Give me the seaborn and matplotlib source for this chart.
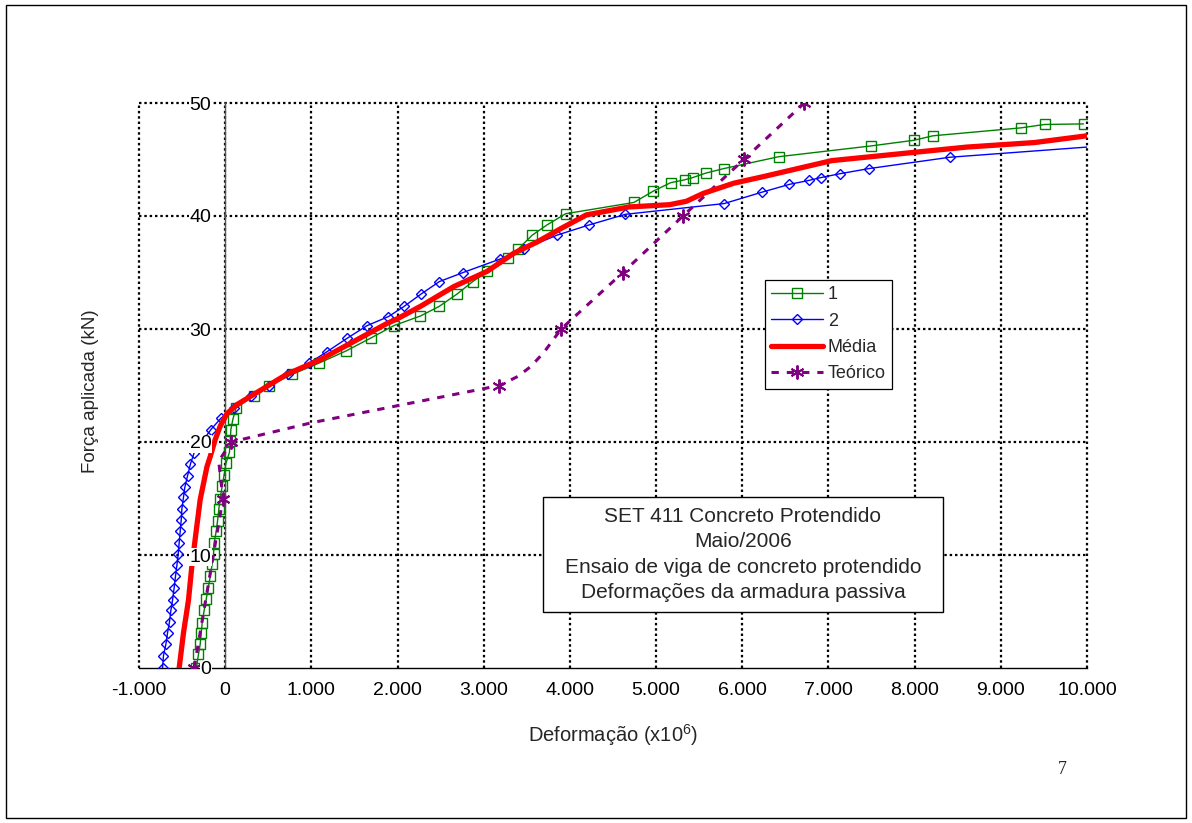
import matplotlib
matplotlib.use("Agg")
import matplotlib.pyplot as plt
from matplotlib.patches import Rectangle
from matplotlib.ticker import MultipleLocator
import seaborn as sns

# ---------------- data ----------------
# Series "1" (green squares)
g_x = [-335, -310, -290, -278, -267, -244, -220, -197, -174, -151, -135, -128, -104, -89, -73, -58,
       -35, -12, 8, 50, 58, 66, 89, 125, 329, 514, 781, 1094, 1400, 1690, 1957, 2266, 2483, 2691,
       2873, 3043, 3283, 3403, 3562, 3732, 3950, 4743, 4967, 5170, 5330, 5425, 5578, 5788, 6425,
       7493, 7991, 8214, 9234, 9508, 9960]
g_y = [0, 1.2, 2.1, 3.1, 4.0, 5.1, 6.1, 7.05, 8.1, 9.2, 10.1, 11.1, 12.1, 13.0, 14.1, 15.0,
       16.1, 17.1, 18.1, 19.1, 20.1, 21.1, 22.0, 23.0, 24.1, 25.0, 26.0, 27.0, 28.05, 29.2, 30.3,
       31.15, 32.0, 33.1, 34.2, 35.1, 36.25, 37.1, 38.3, 39.2, 40.2, 41.2, 42.2, 42.95, 43.2, 43.4,
       43.8, 44.2, 45.25, 46.2, 46.7, 47.1, 47.8, 48.1, 48.15]

# Series "2" (blue diamonds)
b_x = [-727, -716, -688, -669, -646, -630, -611, -592, -577, -560, -545, -534, -522, -510, -502,
       -484, -468, -437, -403, -360, -270, -166, -50, 104, 304, 503, 731, 978, 1183, 1419, 1647,
       1895, 2076, 2274, 2486, 2761, 3193, 3472, 3848, 4218, 4645, 5790, 6225, 6547, 6774, 6912,
       7139, 7473, 8410, 10000]
b_y = [0, 1.1, 2.1, 3.1, 4.1, 5.1, 6.0, 7.1, 8.1, 9.1, 10.1, 11.1, 12.1, 13.1, 14.1, 15.1, 16.0,
       17.0, 18.05, 19.05, 20.0, 21.1, 22.1, 23.05, 24.1, 25.0, 26.0, 27.0, 28.0, 29.2, 30.3, 31.1,
       32.0, 33.1, 34.2, 35.0, 36.2, 37.1, 38.3, 39.2, 40.15, 41.1, 42.1, 42.8, 43.15, 43.4, 43.75,
       44.2, 45.2, 46.1]

# Média (red thick line)
m_x = [-534, -484, -426, -387, -340, -290, -212, -174, -116, -58, 19, 135, 329, 717, 1106, 1493,
       1880, 1996, 2265, 2652, 3039, 3348, 3619, 3898, 4192, 4684, 5155, 5351, 5547, 5900, 6253,
       6645, 7038, 7821, 8606, 9391, 10000]
m_y = [0, 3.1, 6.0, 9.0, 11.9, 14.9, 17.8, 18.7, 20.2, 21.4, 22.5, 23.3, 24.2, 26.0, 27.3, 28.9,
       30.5, 30.9, 32.0, 33.75, 35.1, 36.7, 37.7, 38.9, 40.1, 40.8, 41.0, 41.3, 42.0, 42.9, 43.5,
       44.2, 44.9, 45.5, 46.1, 46.5, 47.1]

# Teórico (purple dashed, asterisks)
t_x = [-360, -26, -75, 70, 1000, 3183, 3395, 3550, 3705, 3898, 4615, 5312, 6018, 6720]
t_y = [0, 15, 18.3, 20, 21.7, 25, 25.8, 26.7, 28.0, 30, 35, 40, 45, 50]
t_marked = [0, 1, 3, 5, 9, 10, 11, 12, 13]

x_ticks = [-1000, 0, 1000, 2000, 3000, 4000, 5000, 6000, 7000, 8000, 9000, 10000]
x_tick_labels = ["-1.000", "0", "1.000", "2.000", "3.000", "4.000", "5.000", "6.000",
                 "7.000", "8.000", "9.000", "10.000"]
y_ticks = [0, 10, 20, 30, 40, 50]
y_tick_labels = ["0", "10", "20", "30", "40", "50"]

series_labels = ["1", "2", "Média", "Teórico"]
box_lines = ["SET 411 Concreto Protendido", "Maio/2006",
             "Ensaio de viga de concreto protendido", "Deformações da armadura passiva"]

# ---------------- style ----------------
sns.set_style("white")
plt.rcParams["font.family"] = ["Liberation Sans", "DejaVu Sans"]
plt.rcParams["mathtext.fontset"] = "custom"
plt.rcParams["mathtext.rm"] = "Liberation Sans"
plt.rcParams["mathtext.it"] = "Liberation Sans:italic"

fig = plt.figure(figsize=(11.92, 8.23), dpi=100)
fig.patch.set_facecolor("white")
ax = fig.add_axes([139 / 1192, 1 - 668 / 823, (1087 - 139) / 1192, (668 - 103) / 823])
ax.set_facecolor("white")

# gridlines (dotted)
grid_kw = dict(color="black", lw=1.6, ls=(0, (1.1, 1.3)), zorder=0.5, clip_on=False)
for xv in x_ticks:
    ax.axvline(xv, **grid_kw)
for yv in y_ticks[1:]:
    ax.axhline(yv, **grid_kw)

# ---------------- data lines ----------------
sns.lineplot(x=g_x, y=g_y, sort=False, estimator=None, ax=ax, color="#008000", lw=1.0,
             marker="s", markersize=6.5, markerfacecolor="none", markeredgecolor="#008000",
             markeredgewidth=1.0, label=series_labels[0], legend=False, zorder=3)
sns.lineplot(x=b_x, y=b_y, sort=False, estimator=None, ax=ax, color="#0000FF", lw=1.0,
             marker="D", markersize=4.6, markerfacecolor="none", markeredgecolor="#0000FF",
             markeredgewidth=1.0, markevery=list(range(len(b_x) - 1)),
             label=series_labels[1], legend=False, zorder=3)
sns.lineplot(x=m_x, y=m_y, sort=False, estimator=None, ax=ax, color="#FF0000", lw=3.8,
             label=series_labels[2], legend=False, zorder=3.2)
sns.lineplot(x=t_x, y=t_y, sort=False, estimator=None, ax=ax, color="#800080", lw=2.2,
             marker=(6, 2, 0), markersize=10, markeredgewidth=1.4, markeredgecolor="#800080",
             markevery=t_marked, label=series_labels[3], legend=False, zorder=3.1)
lines = ax.get_lines()[-4:]
lines[3].set_dashes([2.4, 2.6])

# ---------------- axes ----------------
ax.set_xlim(-1000, 10000)
ax.set_ylim(0, 50)
for s in ["top", "right"]:
    ax.spines[s].set_visible(False)
ax.spines["left"].set_position(("data", 0))
ax.spines["left"].set_color("#555555")
ax.spines["left"].set_linewidth(1.0)
ax.spines["bottom"].set_color("black")
ax.spines["bottom"].set_linewidth(1.0)

ax.set_xticks(x_ticks)
ax.set_xticklabels(x_tick_labels, fontsize=14)
ax.set_yticks(y_ticks)
ax.set_yticklabels(y_tick_labels, fontsize=14)
ax.xaxis.set_minor_locator(MultipleLocator(200))
ax.yaxis.set_minor_locator(MultipleLocator(2))
ax.tick_params(axis="x", which="major", direction="in", length=0, pad=10, colors="black")
ax.tick_params(axis="y", which="major", direction="in", length=0, pad=10, colors="black")
ax.tick_params(which="minor", direction="in", length=4, width=0.8, color="#555555")
for lab in ax.get_yticklabels():
    lab.set_bbox(dict(facecolor="white", edgecolor="none", pad=0.6))
ax.yaxis.set_zorder(3.5)

ax.set_ylabel("Força aplicada (kN)", fontsize=13.5)
ax.yaxis.set_label_coords(-0.042, 0.49)
ax.set_xlabel("Deformação (x10$^{\\mathrm{6}}$)", fontsize=14.5)
ax.xaxis.set_label_coords(0.5, -0.096)

# legend
leg = ax.legend(lines, series_labels, loc="upper left", bbox_to_anchor=(0.660, 0.687),
                borderaxespad=0, frameon=True, fancybox=False, framealpha=1,
                edgecolor="black", fontsize=13, handlelength=2.9, labelspacing=0.52,
                borderpad=0.35, handletextpad=0.25)
leg.get_frame().set_linewidth(0.9)
leg.set_zorder(5)

# text box
ax.add_patch(Rectangle((0.4262, 0.0991), 0.4219, 0.2036, transform=ax.transAxes,
                       facecolor="white", edgecolor="black", lw=1.0, zorder=4))
ax.text(0.637, 0.2009, "\n".join(box_lines), transform=ax.transAxes, ha="center",
        va="center", multialignment="center", fontsize=15, linespacing=1.43, zorder=4.5)

# page frame and page number
fig.add_artist(Rectangle((6 / 1192, 1 - 818 / 823), 1180 / 1192, 813 / 823,
                         transform=fig.transFigure, fill=False, edgecolor="black", lw=1.0))
fig.text(1062 / 1192, 1 - 770 / 823, "7", family="Liberation Serif", fontsize=13,
         ha="center", va="center")

fig.savefig("out.png", dpi=100, facecolor="white")
